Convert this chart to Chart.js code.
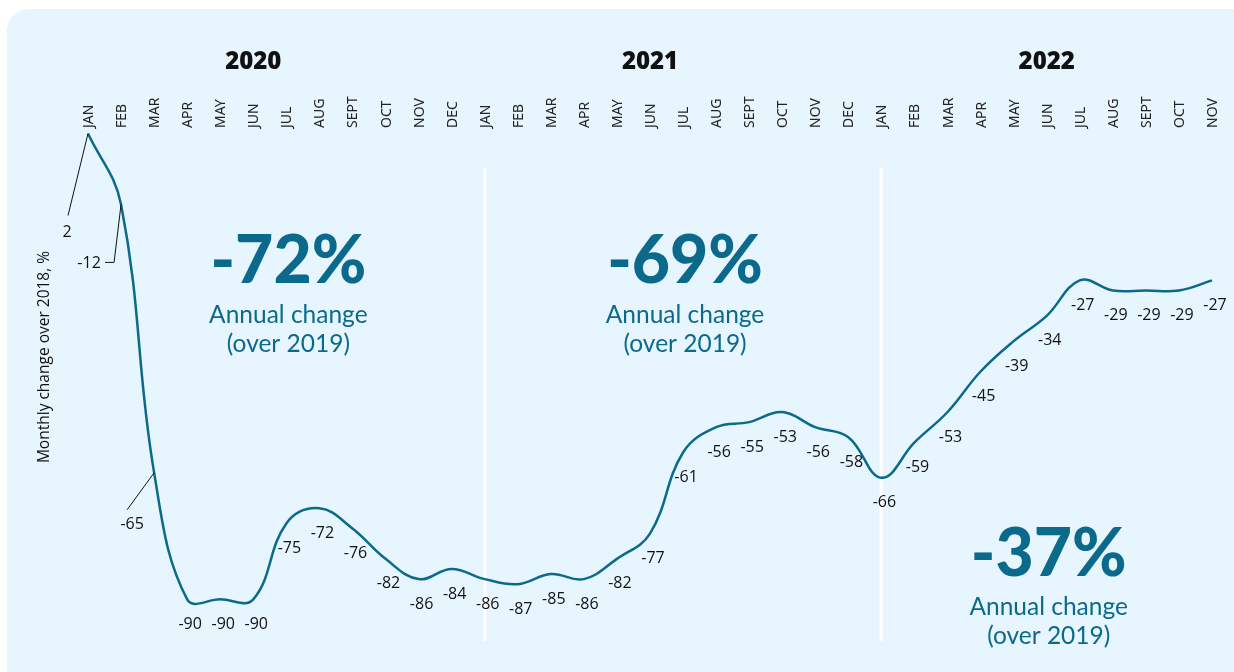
<!DOCTYPE html>
<html>
<head>
<meta charset="utf-8">
<script src="https://cdn.jsdelivr.net/npm/chart.js@4"></script>
<style>
  html, body { margin: 0; padding: 0; background: #fff; }
  #wrap { width: 1234px; height: 672px; }
</style>
</head>
<body>
<div id="wrap"><canvas id="myChart" width="1234" height="672"></canvas></div>
<script>
// months Jan 2020 .. Nov 2022
const months = ['JAN','FEB','MAR','APR','MAY','JUN','JUL','AUG','SEPT','OCT','NOV','DEC',
                'JAN','FEB','MAR','APR','MAY','JUN','JUL','AUG','SEPT','OCT','NOV','DEC',
                'JAN','FEB','MAR','APR','MAY','JUN','JUL','AUG','SEPT','OCT','NOV'];
const monthlyChange = [2, -12, -65, -90, -90, -90, -75, -72, -76, -82, -86, -84,
                       -86, -87, -85, -86, -82, -77, -61, -56, -55, -53, -56, -58,
                       -66, -59, -53, -45, -39, -34, -27, -29, -29, -29, -27];
const years = ['2020', '2021', '2022'];
const annualChange = ['-72%', '-69%', '-37%'];
const yearStart = [0, 12, 24];

const lineColor = '#0b6a8b';
const textBlue = '#0b6a8b';

// panel + year headers + month labels + separators + annotations
const decor = {
  id: 'decor',
  beforeDraw(chart) {
    const ctx = chart.ctx;
    const x = chart.scales.x;
    ctx.save();
    ctx.fillStyle = '#ffffff';
    ctx.fillRect(0, 0, chart.width, chart.height);
    ctx.fillStyle = '#e7f5fe';
    ctx.beginPath();
    ctx.roundRect(7, 9, 1260, 700, 22);
    ctx.fill();

    // separators at january of 2021 and 2022
    ctx.strokeStyle = '#ffffff';
    ctx.lineWidth = 3;
    [yearStart[1], yearStart[2]].forEach(i => {
      const px = Math.round(x.getPixelForValue(i));
      ctx.beginPath();
      ctx.moveTo(px, 168);
      ctx.lineTo(px, 641);
      ctx.stroke();
    });

    // year headers centred over june
    ctx.fillStyle = '#111';
    ctx.font = '800 24px "Open Sans", sans-serif';
    ctx.textAlign = 'center';
    ctx.textBaseline = 'middle';
    years.forEach((y, k) => {
      ctx.fillText(y, x.getPixelForValue(yearStart[k] + 5), 62);
    });

    // month labels, rotated
    ctx.font = '14px "Noto Sans", sans-serif';
    ctx.fillStyle = '#222';
    ctx.textAlign = 'left';
    months.forEach((m, i) => {
      ctx.save();
      ctx.translate(x.getPixelForValue(i) + 1, 128);
      ctx.rotate(-Math.PI / 2);
      ctx.fillText(m, 0, 0);
      ctx.restore();
    });

    // y axis title
    ctx.save();
    ctx.translate(45, 357);
    ctx.rotate(-Math.PI / 2);
    ctx.textAlign = 'center';
    ctx.font = '15.5px "Open Sans", sans-serif';
    ctx.fillStyle = '#111';
    ctx.fillText('Monthly change over 2018, %', 0, 0);
    ctx.restore();

    // annual change callouts
    const spots = [[6, 262, 315, 344], [18, 262, 315, 344], [29, 555, 607, 636]];
    spots.forEach((s, k) => {
      const cx = x.getPixelForValue(s[0]) + 2;
      ctx.fillStyle = textBlue;
      ctx.textAlign = 'center';
      ctx.font = '900 66px Lato, sans-serif';
      ctx.fillText(annualChange[k], cx, s[1]);
      ctx.font = '24.5px Lato, sans-serif';
      ctx.fillText('Annual change', cx, s[2]);
      ctx.fillText('(over 2019)', cx, s[3]);
    });
    ctx.restore();
  },
  afterDatasetsDraw(chart) {
    const ctx = chart.ctx;
    const meta = chart.getDatasetMeta(0);
    ctx.save();
    ctx.font = '16px "Open Sans", sans-serif';
    ctx.fillStyle = '#111';
    ctx.textAlign = 'center';
    ctx.textBaseline = 'middle';
    ctx.strokeStyle = '#111';
    ctx.lineWidth = 1;
    meta.data.forEach((pt, i) => {
      const v = monthlyChange[i];
      const t = String(v);
      if (i === 0) {
        ctx.beginPath();
        ctx.moveTo(pt.x, pt.y);
        ctx.lineTo(pt.x - 20, pt.y + 82);
        ctx.stroke();
        ctx.fillText(t, pt.x - 21, pt.y + 99);
      } else if (i === 1) {
        ctx.beginPath();
        ctx.moveTo(pt.x, pt.y);
        ctx.lineTo(pt.x - 7, pt.y + 58);
        ctx.lineTo(pt.x - 16, pt.y + 58);
        ctx.stroke();
        ctx.fillText(t, pt.x - 32, pt.y + 59);
      } else if (i === 2) {
        ctx.beginPath();
        ctx.moveTo(pt.x, pt.y);
        ctx.lineTo(pt.x - 27, pt.y + 37);
        ctx.stroke();
        ctx.fillText(t, pt.x - 22, pt.y + 52);
      } else {
        ctx.fillText(t, pt.x + 3, pt.y + 25);
      }
    });
    ctx.restore();
  }
};

new Chart(document.getElementById('myChart'), {
  type: 'line',
  data: {
    labels: months,
    datasets: [{
      data: monthlyChange,
      borderColor: lineColor,
      borderWidth: 2.5,
      pointRadius: 0,
      tension: 0.4,
      fill: false
    }]
  },
  options: {
    responsive: false,
    animation: false,
    layout: { padding: { left: 88, right: 22, top: 93, bottom: 22 } },
    plugins: { legend: { display: false }, tooltip: { enabled: false } },
    scales: {
      x: { display: false, offset: false },
      y: { display: false, min: -100, max: 10 }
    }
  },
  plugins: [decor]
});
</script>
</body>
</html>
